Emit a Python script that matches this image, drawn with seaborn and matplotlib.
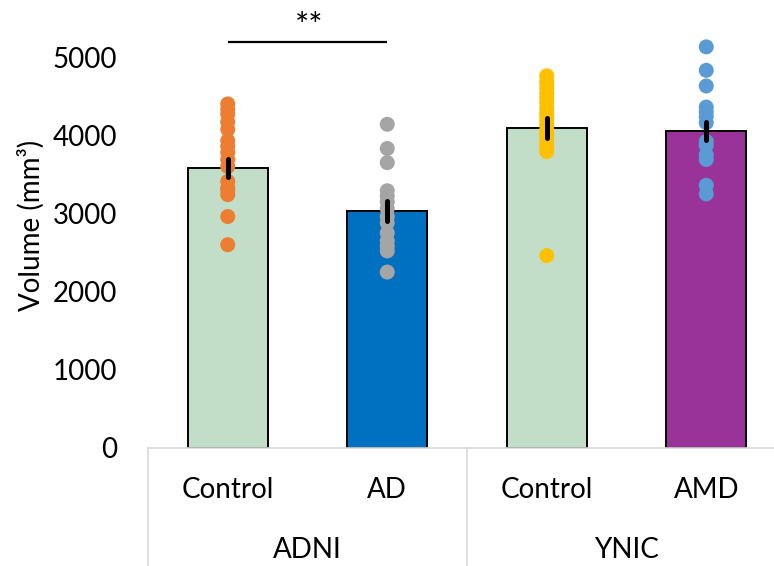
import matplotlib
matplotlib.use("Agg")
import matplotlib.pyplot as plt
import matplotlib.transforms as mtransforms
import seaborn as sns
import pandas as pd

# Group keys and their displayed labels
groups = ["ADNI Control", "AD", "YNIC Control", "AMD"]
group_labels = ["Control", "AD", "Control", "AMD"]
cohorts = ["ADNI", "YNIC"]

# Group means and standard errors (mm³)
means = [3580, 3030, 4095, 4055]
sems = [120, 130, 125, 120]

# Individual subject volumes (mm³)
adni_control = [4400, 4330, 4270, 4170, 4075, 3930, 3860, 3780, 3690,
                3600, 3410, 3330, 3300, 3240, 2960, 2600]
ad = [4140, 3830, 3650, 3290, 3220, 3150, 3060, 2960, 2880, 2750, 2650,
      2580, 2520, 2250]
ynic_control = [4760, 4700, 4660, 4600, 4540, 4480, 4420, 4350, 4290, 4250,
                4190, 4130, 4070, 4020, 3950, 3880, 3830, 3790, 2460]
amd = [5130, 4830, 4630, 4360, 4300, 4240, 4160, 3920, 3870, 3750, 3690,
       3360, 3250]

bar_colors = ["#C3DEC8", "#0070C0", "#C3DEC8", "#993399"]
dot_colors = ["#ED7D31", "#A5A5A5", "#FFC000", "#5B9BD5"]

sns.set_theme(style="white")
plt.rcParams["font.family"] = ["Lato", "DejaVu Sans"]
FS = 20

bars = pd.DataFrame({"group": groups, "volume": means})
subjects = pd.DataFrame({
    "group": (["ADNI Control"] * len(adni_control) + ["AD"] * len(ad)
              + ["YNIC Control"] * len(ynic_control) + ["AMD"] * len(amd)),
    "volume": adni_control + ad + ynic_control + amd,
})

fig = plt.figure(figsize=(7.74, 5.66), dpi=100)
ax = fig.add_axes([148 / 774, 118 / 566, 638 / 774, 445.7 / 566])

sns.barplot(data=bars, x="group", y="volume", hue="group", order=groups,
            hue_order=groups, palette=bar_colors, saturation=1, width=0.5,
            errorbar=None, edgecolor="black", linewidth=1.4, legend=False,
            ax=ax, zorder=2)
sns.stripplot(data=subjects, x="group", y="volume", hue="group", order=groups,
              hue_order=groups, palette=dot_colors, jitter=False, size=10.8,
              linewidth=0, legend=False, ax=ax, zorder=3)
eb = ax.errorbar(range(len(groups)), means, yerr=sems, fmt="none",
                 ecolor="black", elinewidth=3.6, capsize=0, zorder=4)
for lc in eb.lines[2]:
    lc.set_capstyle("round")

ax.set_xlim(-0.5, 3.5)
ax.set_ylim(0, 5700)
ax.set_yticks([0, 1000, 2000, 3000, 4000, 5000])
ax.set_xticks(range(len(groups)))
ax.set_xticklabels(group_labels)
ax.tick_params(axis="y", length=0, pad=22, labelsize=FS, labelcolor="black")
ax.tick_params(axis="x", length=0, pad=21, labelsize=FS, labelcolor="black")
ax.set_xlabel("")
ax.set_ylabel("Volume (mm³)", fontsize=FS, color="black", labelpad=6)

for side in ["top", "right", "left"]:
    ax.spines[side].set_visible(False)
ax.spines["bottom"].set_color("#D9D9D9")
ax.spines["bottom"].set_linewidth(1.2)

# Cohort separators and cohort labels beneath the category labels
trans = mtransforms.blended_transform_factory(ax.transData, ax.transAxes)
bottom = -118 / 445.7
for xpos in [-0.5, 1.5]:
    ax.plot([xpos, xpos], [0, bottom], color="#D9D9D9", lw=1.2,
            transform=trans, clip_on=False)
for i, name in enumerate(cohorts):
    ax.text(2 * i + 0.5, -102 / 445.7, name, transform=trans, ha="center",
            va="center", fontsize=FS, color="black")

# Significance bracket between ADNI groups
ax.plot([0, 1], [5195, 5195], color="black", lw=1.6, clip_on=False,
        solid_capstyle="butt")
ax.text(0.51, 5390, "**", ha="center", va="center", fontsize=24,
        color="black")

fig.savefig("out.png", dpi=100)
